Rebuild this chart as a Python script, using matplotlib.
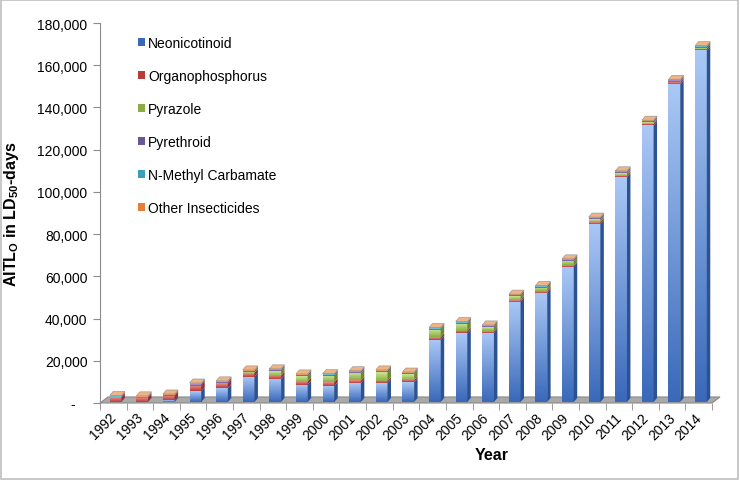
import numpy as np
import matplotlib
matplotlib.use("Agg")
from matplotlib import pyplot as plt
from matplotlib.patches import Polygon, Patch, Rectangle
from matplotlib.colors import LinearSegmentedColormap
import matplotlib.ticker as mticker

plt.rcParams['font.family'] = ['Liberation Sans', 'DejaVu Sans']
plt.rcParams['mathtext.fontset'] = 'custom'
plt.rcParams['mathtext.rm'] = 'Liberation Sans'
plt.rcParams['mathtext.bf'] = 'Liberation Sans:bold'

# Data
years = [str(y) for y in range(1992, 2015)]
neonicotinoid = [200, 100, 800, 5000, 6500, 12000, 11000, 8200, 7500, 9000, 8900, 9300,
                 29500, 32500, 32800, 47500, 51800, 64000, 84500, 106400, 131000, 150500, 166500]
organophosphorus = [2000, 1900, 2000, 2800, 2300, 1800, 1500, 1500, 1800, 1200, 1000, 1000,
                    1200, 1000, 800, 700, 800, 700, 800, 800, 900, 900, 900]
pyrazole = [0, 0, 0, 0, 0, 300, 2000, 2500, 3000, 3500, 4200, 2800,
            3500, 3500, 1800, 1800, 1500, 2000, 1200, 1200, 500, 300, 300]
pyrethroid = [400, 400, 500, 700, 700, 600, 700, 600, 600, 600, 600, 600,
              600, 600, 600, 600, 600, 600, 600, 600, 600, 600, 600]
carbamate = [200] * 23
other = [300] * 23

series = [
    ("Neonicotinoid", neonicotinoid, "#aac8f6", "#3a69ba"),
    ("Organophosphorus", organophosphorus, "#eb918f", "#b83c3a"),
    ("Pyrazole", pyrazole, "#cce596", "#8aae44"),
    ("Pyrethroid", pyrethroid, "#b3a1d2", "#6d5598"),
    ("N-Methyl Carbamate", carbamate, "#97d8ea", "#3a9fba"),
    ("Other Insecticides", other, "#fcbd8c", "#e57e36"),
]


def darker(c, f):
    rgb = np.array(matplotlib.colors.to_rgb(c))
    return tuple(rgb * f)


def main():
    fig = plt.figure(figsize=(7.4, 4.81), dpi=100)
    ax = fig.add_axes([100 / 740, 77 / 481, 612 / 740, 380 / 481])

    n = len(years)
    w = 0.44          # front face width
    dx, dy = 0.13, 1900   # bar depth
    fx, fy = 0.30, 2850   # floor depth
    sx, sy = fx / 2 - dx / 2, fy / 2 - dy / 2

    # floor
    floor = Polygon([(-0.5, 0), (n - 0.5, 0), (n - 0.5 + fx, fy), (-0.5 + fx, fy)],
                    closed=True, facecolor="#a9a9a9", edgecolor="#8a8a8a", lw=0.8,
                    clip_on=False, zorder=1)
    ax.add_patch(floor)

    grad = np.linspace(0, 1, 64).reshape(-1, 1)
    bottoms = np.zeros(n)
    for name, vals, light, dark in series:
        cm = LinearSegmentedColormap.from_list(name, [dark, light])
        side_col = darker(dark, 0.78)
        for i, v in enumerate(vals):
            if v <= 0:
                continue
            x0 = i - w / 2 + sx
            x1 = x0 + w
            y0 = bottoms[i] + sy
            y1 = y0 + v
            ax.imshow(grad, extent=(x0, x1, y0, y1), aspect='auto', cmap=cm,
                      origin='lower', interpolation='bilinear', zorder=3)
            side = Polygon([(x1, y0), (x1 + dx, y0 + dy), (x1 + dx, y1 + dy), (x1, y1)],
                           closed=True, facecolor=side_col, edgecolor='none', zorder=3)
            ax.add_patch(side)
        bottoms += np.array(vals)

    # top faces
    top_light = darker(series[-1][2], 0.95)
    for i in range(n):
        x0 = i - w / 2 + sx
        x1 = x0 + w
        y1 = bottoms[i] + sy
        top = Polygon([(x0, y1), (x0 + dx, y1 + dy), (x1 + dx, y1 + dy), (x1, y1)],
                      closed=True, facecolor=top_light, edgecolor=(0.55, 0.55, 0.55),
                      lw=0.4, zorder=4)
        ax.add_patch(top)

    ax.set_xlim(-0.5, n - 0.5)
    ax.set_ylim(0, 180000)

    # axes styling
    for s in ["top", "right", "bottom"]:
        ax.spines[s].set_visible(False)
    ax.spines["left"].set_color("#8c8c8c")
    ax.yaxis.set_major_locator(mticker.MultipleLocator(20000))
    ax.yaxis.set_major_formatter(mticker.FuncFormatter(
        lambda v, p: "-   " if v == 0 else f"{v:,.0f}"))
    ax.tick_params(axis='y', direction='out', length=5, color="#8c8c8c",
                   labelsize=10, pad=4)

    ax.set_xticks(np.arange(n) - 0.15)
    ax.set_xticklabels(years, rotation=45, ha='right', rotation_mode='anchor', fontsize=10)
    ax.set_xticks(np.arange(n + 1) - 0.5, minor=True)
    ax.tick_params(axis='x', which='major', length=0, pad=5)
    ax.tick_params(axis='x', which='minor', length=5, color="#8c8c8c", direction='out')

    ax.set_ylabel(r"AITL$_\mathbf{O}$ in LD$_\mathbf{50}$-days", fontsize=11.5,
                  fontweight='bold', labelpad=12)
    ax.set_xlabel("Year", fontsize=11.5, fontweight='bold')
    ax.xaxis.set_label_coords(0.64, -0.115)

    handles = [Patch(facecolor=s[3], edgecolor='none') for s in series]
    ax.legend(handles, [s[0] for s in series], loc='upper left',
              bbox_to_anchor=(0.042, 1.0), frameon=False, fontsize=10,
              handlelength=0.5, handleheight=0.5, handletextpad=0.2,
              labelspacing=1.38)

    fig.patches.append(Rectangle((0.002, 0.003), 0.995, 0.994, transform=fig.transFigure,
                                 fill=False, edgecolor="#bfbfbf", lw=1.2))

    fig.savefig("out.png", dpi=100)


if __name__ == '__main__':
    main()
